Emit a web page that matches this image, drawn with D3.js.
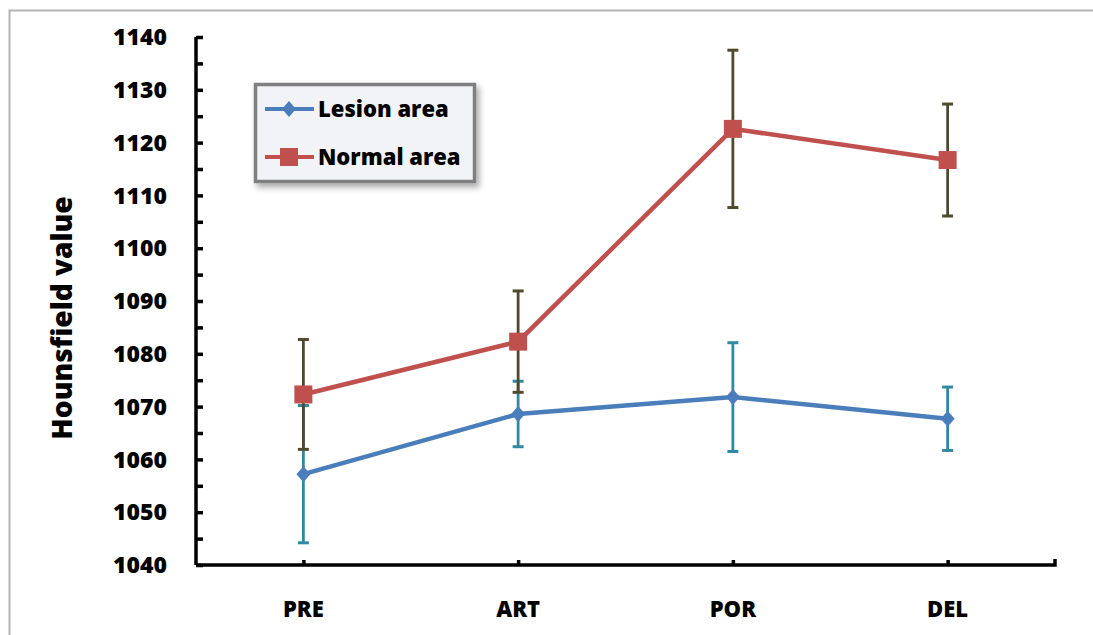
<!DOCTYPE html>
<html>
<head>
<meta charset="utf-8">
<script src="https://cdn.jsdelivr.net/npm/d3@7"></script>
<style>
  body { margin: 0; background: #fff; }
  svg { display: block; font-family: "Open Sans", Lato, sans-serif; font-weight: 800; }
</style>
</head>
<body>
<svg id="chart" width="1093" height="635"></svg>
<script>
var phases = ['PRE', 'ART', 'POR', 'DEL'];
var lesionMean = [1057.2, 1068.6, 1071.8, 1067.7];
var lesionErr = [13.0, 6.2, 10.3, 6.0];
var normalMean = [1072.3, 1082.3, 1122.6, 1116.7];
var normalErr = [10.4, 9.6, 14.9, 10.6];
var yTicks = [1040, 1050, 1060, 1070, 1080, 1090, 1100, 1110, 1120, 1130, 1140];

var svg = d3.select('#chart'),
    plotLeft = 196, plotRight = 1055, plotTop = 37, plotBottom = 565;

var x = d3.scalePoint().domain(phases).range([plotLeft, plotRight]).padding(0.5),
    y = d3.scaleLinear().domain([1040, 1140]).range([plotBottom, plotTop]);

// outer frame
svg.append('rect')
    .attr('x', 9.5).attr('y', 10.5)
    .attr('width', 1200).attr('height', 700)
    .attr('fill', 'none').attr('stroke', '#b4b4b4').attr('stroke-width', 2);

var defs = svg.append('defs');
var f = defs.append('filter').attr('id', 'shadow')
    .attr('x', '-10%').attr('y', '-10%').attr('width', '130%').attr('height', '140%');
f.append('feDropShadow').attr('dx', 3).attr('dy', 4).attr('stdDeviation', 3)
    .attr('flood-color', '#000').attr('flood-opacity', 0.35);

// y axis
var yAxis = d3.axisRight(y)
    .tickValues(d3.range(1040, 1141, 5))
    .tickSize(7)
    .tickFormat('');
var gy = svg.append('g').attr('transform', 'translate(' + plotLeft + ',0)').call(yAxis);
gy.select('.domain').attr('d', 'M0,' + plotTop + 'V' + plotBottom);
gy.selectAll('line, path').attr('stroke', '#000').attr('stroke-width', 3.5);

svg.append('g').selectAll('text')
    .data(yTicks)
  .enter().append('text')
    .attr('x', 167)
    .attr('y', function(d) { return y(d); })
    .attr('dy', '0.36em')
    .attr('text-anchor', 'end')
    .attr('font-size', 23)
    .text(function(d) { return d; });

// x axis
var xAxis = d3.axisTop(x).tickSize(5).tickFormat('');
var gx = svg.append('g').attr('transform', 'translate(0,' + plotBottom + ')').call(xAxis);
gx.select('.domain').attr('d', 'M' + plotLeft + ',0H' + plotRight + 'V-6');
gx.selectAll('line, path').attr('stroke', '#000').attr('stroke-width', 3.5).attr('fill', 'none');

svg.append('g').selectAll('text')
    .data(phases)
  .enter().append('text')
    .attr('x', function(d) { return x(d); })
    .attr('y', 617)
    .attr('text-anchor', 'middle')
    .attr('font-size', 22)
    .text(function(d) { return d; });

svg.append('text')
    .attr('transform', 'translate(72,318) rotate(-90)')
    .attr('text-anchor', 'middle')
    .attr('font-size', 28)
    .text('Hounsfield value');

function errorBars(mean, err, color) {
  var g = svg.append('g').attr('stroke', color).attr('stroke-width', 2.8);
  phases.forEach(function(p, i) {
    var cx = x(p), y0 = y(mean[i] - err[i]), y1 = y(mean[i] + err[i]);
    g.append('line').attr('x1', cx).attr('x2', cx).attr('y1', y0).attr('y2', y1);
    g.append('line').attr('x1', cx - 5.5).attr('x2', cx + 5.5).attr('y1', y0).attr('y2', y0).attr('stroke-width', 3);
    g.append('line').attr('x1', cx - 5.5).attr('x2', cx + 5.5).attr('y1', y1).attr('y2', y1).attr('stroke-width', 3);
  });
}
errorBars(lesionMean, lesionErr, '#2f8aa0');
errorBars(normalMean, normalErr, '#4f4a2c');

var line = d3.line()
    .x(function(d, i) { return x(phases[i]); })
    .y(function(d) { return y(d); });

svg.append('path').datum(lesionMean)
    .attr('d', line).attr('fill', 'none')
    .attr('stroke', '#4a7ebb').attr('stroke-width', 4.5);
svg.append('g').selectAll('path')
    .data(lesionMean)
  .enter().append('path')
    .attr('d', 'M0,-8L7,0L0,8L-7,0Z')
    .attr('fill', '#4a7ebb')
    .attr('transform', function(d, i) { return 'translate(' + x(phases[i]) + ',' + y(d) + ')'; });

svg.append('path').datum(normalMean)
    .attr('d', line).attr('fill', 'none')
    .attr('stroke', '#c0504d').attr('stroke-width', 4.5);
svg.append('g').selectAll('rect')
    .data(normalMean)
  .enter().append('rect')
    .attr('x', function(d, i) { return x(phases[i]) - 9; })
    .attr('y', function(d) { return y(d) - 9; })
    .attr('width', 18).attr('height', 18)
    .attr('fill', '#c0504d');

// legend
var lg = svg.append('g');
lg.append('rect')
    .attr('x', 255.5).attr('y', 84.5).attr('width', 219).attr('height', 97)
    .attr('fill', '#f2f3f6').attr('stroke', '#7f7f7f').attr('stroke-width', 3.5)
    .attr('filter', 'url(#shadow)');
var legendItems = ['Lesion area', 'Normal area'];
legendItems.forEach(function(name, i) {
  var ly = 109 + i * 48, color = i === 0 ? '#4a7ebb' : '#c0504d';
  lg.append('line').attr('x1', 265).attr('x2', 314).attr('y1', ly).attr('y2', ly)
      .attr('stroke', color).attr('stroke-width', 4);
  if (i === 0) {
    lg.append('path').attr('d', 'M289,' + (ly - 8) + 'l7,8l-7,8l-7,-8Z').attr('fill', color);
  } else {
    lg.append('rect').attr('x', 280).attr('y', ly - 9).attr('width', 18).attr('height', 18).attr('fill', color);
  }
  lg.append('text').attr('x', 318).attr('y', ly).attr('dy', '0.36em')
      .attr('font-size', 22).text(name);
});
</script>
</body>
</html>
